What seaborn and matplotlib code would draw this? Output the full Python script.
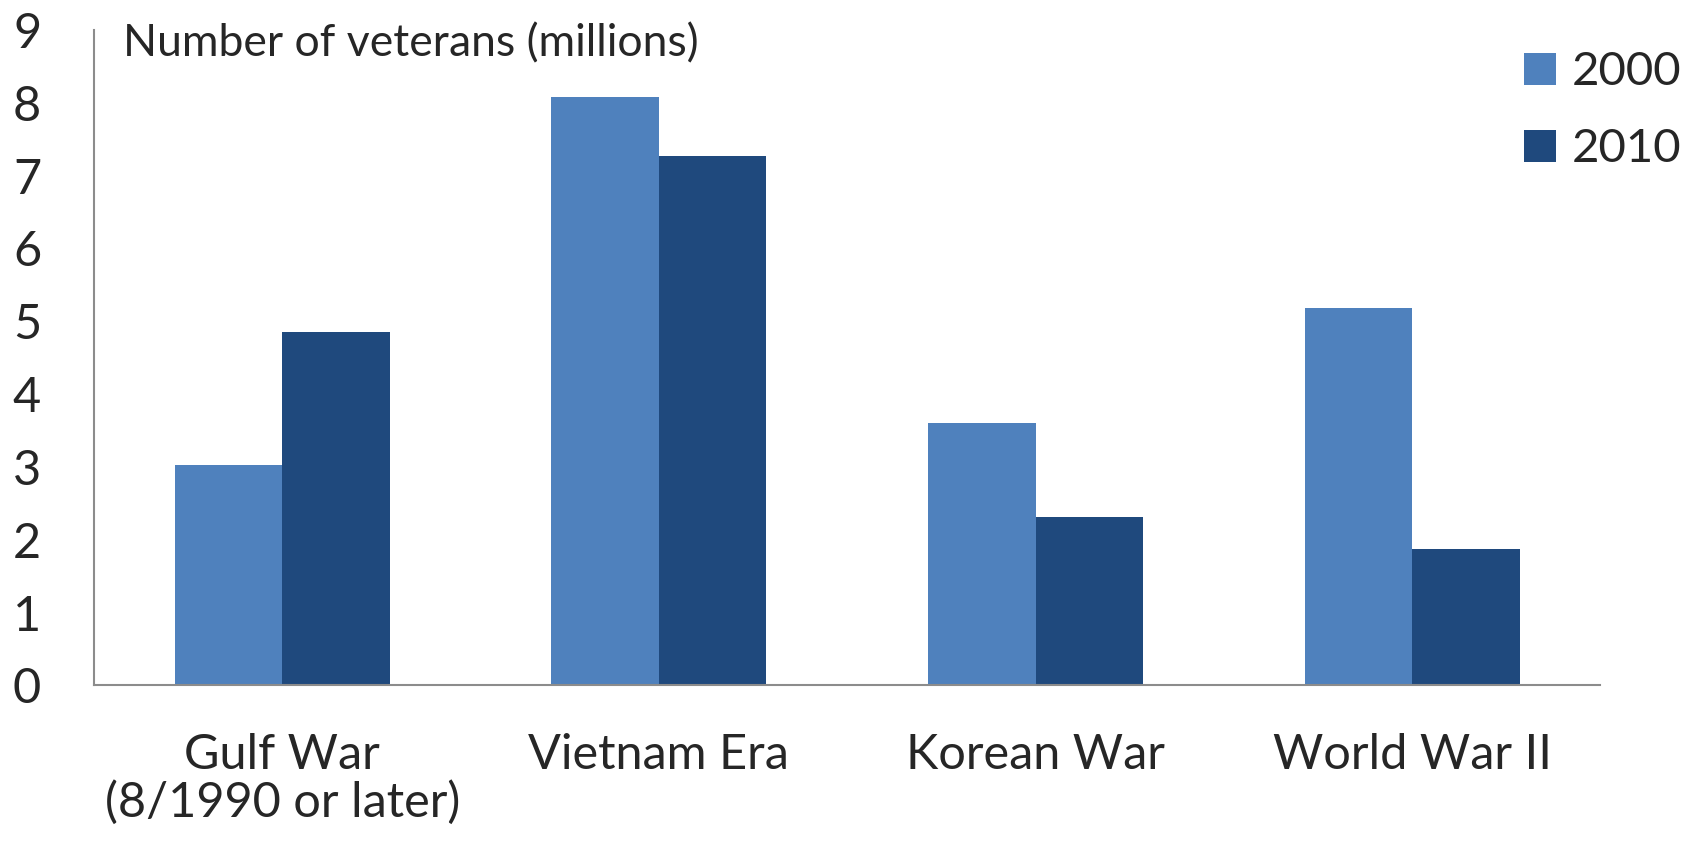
import matplotlib
matplotlib.use("Agg")
import matplotlib.pyplot as plt
from matplotlib.patches import Patch
import seaborn as sns
import pandas as pd

categories = ["Gulf War\n(8/1990 or later)", "Vietnam Era", "Korean War", "World War II"]
years = ["2000", "2010"]
values_2000 = [3.03, 8.08, 3.61, 5.18]
values_2010 = [4.86, 7.27, 2.32, 1.88]
yticks = [0, 1, 2, 3, 4, 5, 6, 7, 8, 9]
ylabel_text = "Number of veterans (millions)"
colors = ["#4F81BD", "#1F497D"]

df = pd.DataFrame({
    "category": categories * 2,
    "year": [years[0]] * 4 + [years[1]] * 4,
    "value": values_2000 + values_2010,
})

sns.set_style("white")
plt.rcParams["font.family"] = ["Lato", "DejaVu Sans"]

fig = plt.figure(figsize=(16.9, 8.44), dpi=100)
ax = fig.add_axes([0.0556, 0.1878, 0.8914, 0.7767])

sns.barplot(data=df, x="category", y="value", hue="year", palette=colors,
            width=0.571, ax=ax, saturation=1, edgecolor="none", legend=False)

ax.set_ylim(0, 9)
ax.set_xlim(-0.5, 3.5)
ax.set_yticks(yticks)
ax.set_yticklabels([str(t) for t in yticks], fontsize=35)
ax.tick_params(axis="y", length=0, pad=38)
ax.tick_params(axis="x", length=0, pad=34, labelsize=35)
ax.set_xlabel("")
ax.set_ylabel("")
for lbl in ax.get_xticklabels():
    lbl.set_linespacing(1.1)

for s in ["top", "right"]:
    ax.spines[s].set_visible(False)
for s in ["left", "bottom"]:
    ax.spines[s].set_color("#8c8c8c")
    ax.spines[s].set_linewidth(1.5)

ax.text(0.019, 1.01, ylabel_text, transform=ax.transAxes, fontsize=32,
        ha="left", va="top")

handles = [Patch(facecolor=c, edgecolor="none") for c in colors]
ax.legend(handles, years, loc="upper left", bbox_to_anchor=(0.902, 0.939),
          bbox_transform=fig.transFigure, frameon=False, fontsize=34,
          handlelength=0.68, handleheight=0.68, handletextpad=0.32,
          labelspacing=0.74, borderpad=0, borderaxespad=0)

fig.savefig("out.png", dpi=100)
